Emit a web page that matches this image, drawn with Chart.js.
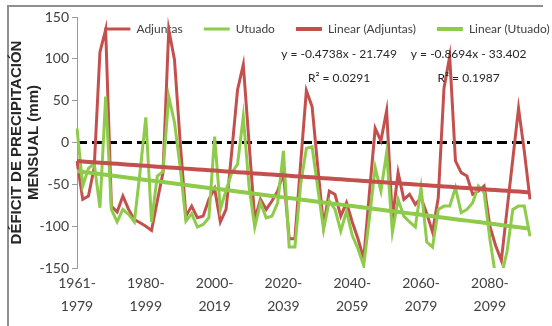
<!DOCTYPE html>
<html>
<head>
<meta charset="utf-8">
<script src="https://cdn.jsdelivr.net/npm/chart.js@4.4.1/dist/chart.umd.min.js"></script>
<style>
    html, body { margin: 0; padding: 0; background: #fff; }
    .wrap { position: relative; width: 552px; height: 326px; overflow: hidden; }
    .frame { position: absolute; left: 7px; top: 5px; width: 536px; height: 340px;
             border-top: 2px solid #8f8f8f; border-left: 2px solid #8f8f8f; box-sizing: border-box; }
    canvas { position: absolute; left: 0; top: 0; }
</style>
</head>
<body>
<div class="wrap">
    <div class="frame"></div>
    <canvas id="chart" width="552" height="326"></canvas>
</div>
<script>
var periodLabels = ['1961-1979', '1980-1999', '2000-2019', '2020-2039', '2040-2059', '2060-2079', '2080-2099'];

var adjuntas = [
    -22, -68, -64, -30, 108, 135, -76, -83, -64, -80,
    -92, -96, -100, -105, -70, -36, 135, 99, 0, -88,
    -76, -90, -88, -68, -55, -95, -80, -10, 63, 93,
    0, -92, -68, -80, -70, -58, -36, -115, -115, -25,
    62, 43, -30, -100, -58, -62, -88, -72, -95, -115,
    -139, -60, 17, 2, 38, -92, -36, -68, -62, -74,
    -66, -85, -107, -66, 65, 103, -22, -36, -40, -62,
    -58, -52, -100, -123, -141, -80, -20, 41, -10, -68
];

var utuado = [
    17, -52, -31, -25, -78, 55, -80, -95, -80, -86,
    -95, -35, 30, -95, -40, -35, 55, 24, -30, -94,
    -85, -101, -98, -90, 7, -80, -57, -36, -26, 31,
    -52, -101, -72, -90, -88, -72, -10, -125, -125, -50,
    -7, -5, -55, -104, -70, -80, -106, -82, -111, -127,
    -147, -90, -30, -58, -12, -107, -68, -88, -95, -101,
    -54, -119, -125, -80, -76, -76, -54, -84, -80, -72,
    -52, -60, -115, -160, -160, -130, -80, -76, -76, -112
];

// trend line coefficients as printed on the chart
var trendAdjuntas = [-0.4738, -21.749];
var trendUtuado = [-0.8694, -33.402];
var equationText = [
    ['y = -0.4738x - 21.749', 'R\u00B2 = 0.0291'],
    ['y = -0.8694x - 33.402', 'R\u00B2 = 0.1987']
];

var yTicks = [-150, -100, -50, 0, 50, 100, 150];

var RED = '#c4504d';
var GREEN = '#8fcb4a';

var labels = adjuntas.map(function (v, i) {
    if (i % 12 !== 0) return '';
    var p = periodLabels[i / 12];
    return [p.slice(0, 5), p.slice(5)];
});

function trendValues(coef) {
    return labels.map(function (l, i) {
        return coef[0] * (i + 1) + coef[1];
    });
}

var zeroLine = {
    id: 'zeroLine',
    beforeDatasetsDraw: function (chart) {
        var ctx = chart.ctx;
        var area = chart.chartArea;
        var y = chart.scales.y.getPixelForValue(0);
        ctx.save();
        ctx.strokeStyle = '#000';
        ctx.lineWidth = 3;
        ctx.setLineDash([10, 5]);
        ctx.beginPath();
        ctx.moveTo(area.left, y);
        ctx.lineTo(area.right, y);
        ctx.stroke();
        ctx.restore();
    }
};

var equations = {
    id: 'equations',
    afterDatasetsDraw: function (chart) {
        var ctx = chart.ctx;
        var x = chart.scales.x;
        var y = chart.scales.y;
        var spots = [[45.7, 106, 77], [68.3, 106, 77]];
        ctx.save();
        ctx.fillStyle = '#262626';
        ctx.font = '12px Lato';
        ctx.textAlign = 'center';
        ctx.textBaseline = 'middle';
        equationText.forEach(function (t, k) {
            var px = x.getPixelForValue(spots[k][0]);
            ctx.fillText(t[0], px, y.getPixelForValue(spots[k][1]));
            ctx.fillText(t[1], px, y.getPixelForValue(spots[k][2]));
        });
        ctx.restore();
    }
};

// legend sits inside the plot area, as in the spreadsheet original
var legendShift = {
    id: 'legendShift',
    afterLayout: function (chart) {
        var lg = chart.legend;
        if (!lg) return;
        lg.top -= 14;
        lg.bottom = lg.top + 50;
        lg.height = 50;
        lg.left += 62;
        lg.right += 62;
    }
};

new Chart(document.getElementById('chart'), {
    type: 'line',
    data: {
        labels: labels,
        datasets: [{
            label: 'Adjuntas',
            data: adjuntas,
            borderColor: RED,
            backgroundColor: RED,
            borderWidth: 3,
            pointRadius: 0,
            tension: 0,
            order: 4
        }, {
            label: 'Utuado',
            data: utuado,
            borderColor: GREEN,
            backgroundColor: GREEN,
            borderWidth: 3,
            pointRadius: 0,
            tension: 0,
            order: 3
        }, {
            label: 'Linear (Adjuntas)',
            data: trendValues(trendAdjuntas),
            borderColor: RED,
            backgroundColor: RED,
            borderWidth: 4,
            pointRadius: 0,
            order: 2
        }, {
            label: 'Linear (Utuado)',
            data: trendValues(trendUtuado),
            borderColor: GREEN,
            backgroundColor: GREEN,
            borderWidth: 4,
            pointRadius: 0,
            order: 1
        }]
    },
    options: {
        responsive: false,
        animation: false,
        layout: {
            padding: { left: 0, right: 22, top: 16, bottom: 0 }
        },
        plugins: {
            tooltip: { enabled: false },
            legend: {
                position: 'top',
                align: 'center',
                maxHeight: 1,
                labels: {
                    usePointStyle: true,
                    pointStyle: 'line',
                    pointStyleWidth: 26,
                    padding: 21,
                    color: '#404040',
                    font: { family: 'Lato', size: 12 },
                    sort: function (a, b) { return a.datasetIndex - b.datasetIndex; }
                }
            }
        },
        scales: {
            x: {
                offset: false,
                grid: { display: false },
                border: { display: false },
                ticks: {
                    autoSkip: false,
                    maxRotation: 0,
                    minRotation: 0,
                    padding: -4,
                    color: '#404040',
                    font: { family: 'Lato', size: 14, lineHeight: 1.65 }
                },
                afterFit: function (scale) { scale.height = 58; }
            },
            y: {
                min: yTicks[0],
                max: yTicks[yTicks.length - 1],
                afterBuildTicks: function (scale) {
                    scale.ticks = yTicks.map(function (v) { return { value: v }; });
                },
                grid: {
                    drawOnChartArea: false,
                    drawTicks: true,
                    tickLength: 5,
                    color: '#9a9a9a'
                },
                border: { color: '#9a9a9a', width: 1 },
                ticks: {
                    padding: 3,
                    color: '#404040',
                    font: { family: 'Lato', size: 14 }
                },
                title: {
                    display: true,
                    text: ['D\u00C9FICIT DE PRECIPITACI\u00D3N', 'MENSUAL (mm)'],
                    color: '#262626',
                    font: { family: 'Liberation Sans', weight: 'bold', size: 15, lineHeight: 1.1 },
                    padding: { top: 9, bottom: 0 }
                },
                afterFit: function (scale) { scale.width = 77; }
            }
        }
    },
    plugins: [zeroLine, equations, legendShift]
});
</script>
</body>
</html>
